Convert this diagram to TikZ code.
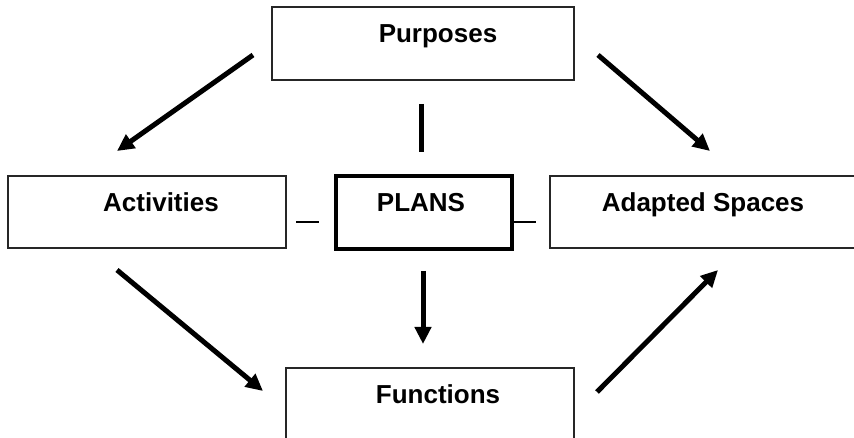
\documentclass[tikz,border=0pt]{standalone}
\usepackage{fontspec}
\setmainfont{Liberation Sans}
\usetikzlibrary{arrows.meta}
\tikzset{
  box/.style={draw=black!85, line width=1.6pt, rectangle, inner sep=0pt, anchor=north west},
  planbox/.style={draw=black, line width=3.6pt, rectangle, inner sep=0pt, anchor=north west},
  lbl/.style={font=\fontsize{26}{30}\selectfont\bfseries, anchor=base, inner sep=0pt},
  bigarrow/.style={line width=5pt, -{Triangle[length=17pt,width=16pt]}},
  link/.style={line width=2pt},
  thick link/.style={line width=5pt}
}
\begin{document}
\begin{tikzpicture}[x=1pt,y=-1pt]
\useasboundingbox (0,0) rectangle (854,438);
\begin{scope}
\clip (0,0) rectangle (854,438);
\node[box, minimum width=302pt, minimum height=73pt] (purp) at (271,6) {};
\node[box, minimum width=278pt, minimum height=72pt] (act) at (7,175) {};
\node[planbox, minimum width=176pt, minimum height=73pt] (plans) at (334,174) {};
\node[box, minimum width=310pt, minimum height=72pt] (adapt) at (549,175) {};
\node[box, minimum width=288pt, minimum height=72pt] (func) at (285,367) {};
\end{scope}
\node[lbl] (purpT) at (438,43) {Purposes};
\node[lbl] (actT) at (161,212) {Activities};
\node[lbl] (plansT) at (421,212) {PLANS};
\node[lbl] (adaptT) at (703,212) {Adapted Spaces};
\node[lbl] (funcT) at (438,403) {Functions};
% connector end points
\coordinate (a1s) at (253,55);
\coordinate (a1e) at (117,151);
\coordinate (a2s) at (598,55);
\coordinate (a2e) at (710,151);
\coordinate (a3s) at (117,270);
\coordinate (a3e) at (263,391);
\coordinate (a4s) at (597,392);
\coordinate (a4e) at (718,270);
\coordinate (dns) at (423,271);
\coordinate (dne) at (423,344);
\coordinate (vls) at (421,104);
\coordinate (vle) at (421,152);
\coordinate (l1s) at (296,222);
\coordinate (l1e) at (319,222);
\coordinate (l2s) at (plans.east |- 0,222);
\coordinate (l2e) at (536,222);
\draw[bigarrow] (a1s) -- (a1e);
\draw[bigarrow] (a2s) -- (a2e);
\draw[bigarrow] (a3s) -- (a3e);
\draw[bigarrow] (a4s) -- (a4e);
\draw[bigarrow] (dns) -- (dne);
\draw[thick link] (vls) -- (vle);
\draw[link] (l1s) -- (l1e);
\draw[link] (l2s) -- (l2e);
\end{tikzpicture}
\end{document}
